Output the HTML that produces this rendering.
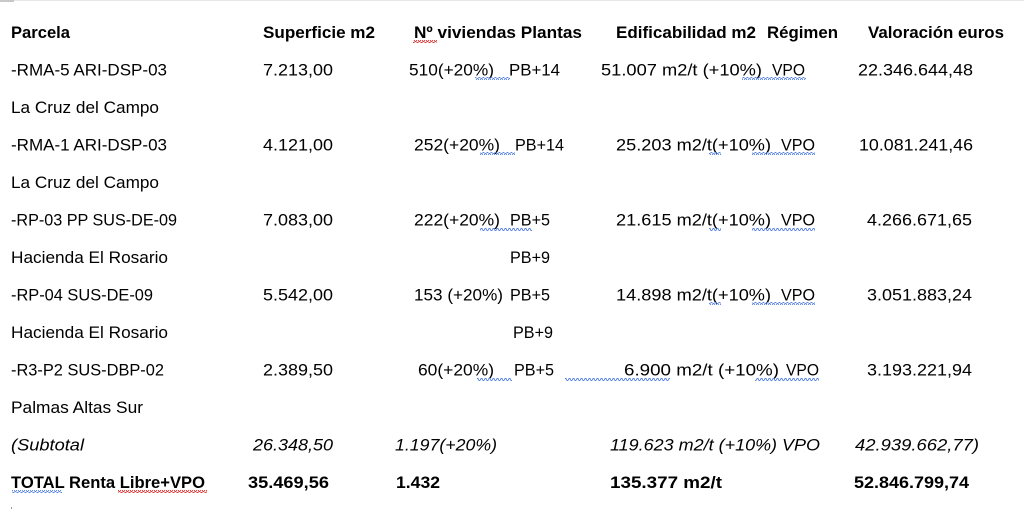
<!DOCTYPE html>
<html>
<head>
<meta charset="utf-8">
<style>
html,body{margin:0;padding:0;background:#fff;}
svg{display:block;}
text{font-family:"Liberation Sans",Arial,sans-serif;font-size:17px;fill:#000;}
.b{font-weight:bold;}
.i{font-style:italic;}
</style>
</head>
<body>
<svg width="1024" height="510" viewBox="0 0 1024 510" xmlns="http://www.w3.org/2000/svg">
<defs>
<pattern id="wb" x="0" y="0" width="4" height="3" patternUnits="userSpaceOnUse">
<path d="M0 2.5 L1 0.5 L2 0.5 L3 2.5 L4 2.5" fill="none" stroke="#5b86e0" stroke-width="0.9"/>
</pattern>
<pattern id="wr" x="0" y="0" width="4" height="3" patternUnits="userSpaceOnUse">
<path d="M0 2.5 L1 0.5 L2 0.5 L3 2.5 L4 2.5" fill="none" stroke="#e03030" stroke-width="0.9"/>
</pattern>
</defs>
<rect x="0" y="0" width="1024" height="510" fill="#fff"/>
<rect x="0" y="0" width="1024" height="1" fill="#e6e6e6"/>
<rect x="0" y="0" width="14" height="2" fill="#c8c8c8"/>
<rect x="11" y="507" width="1" height="2" fill="#999"/>

<!-- Header -->
<text class="b" x="11" y="38" textLength="59" lengthAdjust="spacingAndGlyphs">Parcela</text>
<text class="b" x="263" y="38" textLength="112" lengthAdjust="spacingAndGlyphs">Superficie m2</text>
<text class="b" x="414" y="38" textLength="168" lengthAdjust="spacingAndGlyphs">Nº viviendas Plantas</text>
<text class="b" x="616" y="38" textLength="140" lengthAdjust="spacingAndGlyphs">Edificabilidad m2</text>
<text class="b" x="767" y="38" textLength="71" lengthAdjust="spacingAndGlyphs">Régimen</text>
<text class="b" x="868" y="38" textLength="136" lengthAdjust="spacingAndGlyphs">Valoración euros</text>
<rect x="413" y="40" width="24" height="3" fill="url(#wr)"/>

<!-- Row 2 -->
<text x="11" y="75.5" textLength="156" lengthAdjust="spacingAndGlyphs">-RMA-5 ARI-DSP-03</text>
<text x="263" y="75.5" textLength="70" lengthAdjust="spacingAndGlyphs">7.213,00</text>
<text x="409" y="75.5" textLength="85" lengthAdjust="spacingAndGlyphs">510(+20%)</text>
<text x="509" y="75.5" textLength="51" lengthAdjust="spacingAndGlyphs">PB+14</text>
<text x="601" y="75.5" textLength="161" lengthAdjust="spacingAndGlyphs">51.007 m2/t (+10%)</text>
<text x="772" y="75.5" textLength="33" lengthAdjust="spacingAndGlyphs">VPO</text>
<text x="858" y="75.5" textLength="115" lengthAdjust="spacingAndGlyphs">22.346.644,48</text>
<rect x="475" y="77" width="35" height="3" fill="url(#wb)"/>
<rect x="742" y="77" width="64" height="3" fill="url(#wb)"/>

<!-- Row 3 -->
<text x="11" y="113" textLength="148" lengthAdjust="spacingAndGlyphs">La Cruz del Campo</text>

<!-- Row 4 -->
<text x="11" y="150.5" textLength="156" lengthAdjust="spacingAndGlyphs">-RMA-1 ARI-DSP-03</text>
<text x="263" y="150.5" textLength="70" lengthAdjust="spacingAndGlyphs">4.121,00</text>
<text x="414" y="150.5" textLength="86" lengthAdjust="spacingAndGlyphs">252(+20%)</text>
<text x="515" y="150.5" textLength="49" lengthAdjust="spacingAndGlyphs">PB+14</text>
<text x="616" y="150.5" textLength="155" lengthAdjust="spacingAndGlyphs">25.203 m2/t(+10%)</text>
<text x="781" y="150.5" textLength="34" lengthAdjust="spacingAndGlyphs">VPO</text>
<text x="859" y="150.5" textLength="114" lengthAdjust="spacingAndGlyphs">10.081.241,46</text>
<rect x="480" y="152" width="35" height="3" fill="url(#wb)"/>
<rect x="709" y="152" width="12" height="3" fill="url(#wb)"/>
<rect x="752" y="152" width="63" height="3" fill="url(#wb)"/>

<!-- Row 5 -->
<text x="11" y="188" textLength="148" lengthAdjust="spacingAndGlyphs">La Cruz del Campo</text>

<!-- Row 6 -->
<text x="11" y="225.5" textLength="166" lengthAdjust="spacingAndGlyphs">-RP-03 PP SUS-DE-09</text>
<text x="263" y="225.5" textLength="70" lengthAdjust="spacingAndGlyphs">7.083,00</text>
<text x="414" y="225.5" textLength="86" lengthAdjust="spacingAndGlyphs">222(+20%)</text>
<text x="510" y="225.5" textLength="40" lengthAdjust="spacingAndGlyphs">PB+5</text>
<text x="616" y="225.5" textLength="155" lengthAdjust="spacingAndGlyphs">21.615 m2/t(+10%)</text>
<text x="781" y="225.5" textLength="34" lengthAdjust="spacingAndGlyphs">VPO</text>
<text x="867" y="225.5" textLength="105" lengthAdjust="spacingAndGlyphs">4.266.671,65</text>
<rect x="480" y="228" width="52" height="3" fill="url(#wb)"/>
<rect x="709" y="228" width="12" height="3" fill="url(#wb)"/>
<rect x="752" y="228" width="63" height="3" fill="url(#wb)"/>

<!-- Row 7 -->
<text x="11" y="263" textLength="157" lengthAdjust="spacingAndGlyphs">Hacienda El Rosario</text>
<text x="510" y="263" textLength="40" lengthAdjust="spacingAndGlyphs">PB+9</text>

<!-- Row 8 -->
<text x="11" y="300.5" textLength="142" lengthAdjust="spacingAndGlyphs">-RP-04 SUS-DE-09</text>
<text x="263" y="300.5" textLength="70" lengthAdjust="spacingAndGlyphs">5.542,00</text>
<text x="414" y="300.5" textLength="89" lengthAdjust="spacingAndGlyphs">153 (+20%)</text>
<text x="510" y="300.5" textLength="40" lengthAdjust="spacingAndGlyphs">PB+5</text>
<text x="616" y="300.5" textLength="155" lengthAdjust="spacingAndGlyphs">14.898 m2/t(+10%)</text>
<text x="781" y="300.5" textLength="34" lengthAdjust="spacingAndGlyphs">VPO</text>
<text x="867" y="300.5" textLength="105" lengthAdjust="spacingAndGlyphs">3.051.883,24</text>
<rect x="709" y="302" width="12" height="3" fill="url(#wb)"/>
<rect x="752" y="302" width="63" height="3" fill="url(#wb)"/>

<!-- Row 9 -->
<text x="11" y="338" textLength="157" lengthAdjust="spacingAndGlyphs">Hacienda El Rosario</text>
<text x="513" y="338" textLength="40" lengthAdjust="spacingAndGlyphs">PB+9</text>

<!-- Row 10 -->
<text x="11" y="375.5" textLength="153" lengthAdjust="spacingAndGlyphs">-R3-P2 SUS-DBP-02</text>
<text x="263" y="375.5" textLength="70" lengthAdjust="spacingAndGlyphs">2.389,50</text>
<text x="418" y="375.5" textLength="76" lengthAdjust="spacingAndGlyphs">60(+20%)</text>
<text x="514" y="375.5" textLength="40" lengthAdjust="spacingAndGlyphs">PB+5</text>
<text x="624" y="375.5" textLength="155" lengthAdjust="spacingAndGlyphs">6.900 m2/t (+10%)</text>
<text x="786" y="375.5" textLength="33" lengthAdjust="spacingAndGlyphs">VPO</text>
<text x="867" y="375.5" textLength="105" lengthAdjust="spacingAndGlyphs">3.193.221,94</text>
<rect x="477" y="378" width="35" height="3" fill="url(#wb)"/>
<rect x="565" y="378" width="105" height="3" fill="url(#wb)"/>
<rect x="755" y="378" width="64" height="3" fill="url(#wb)"/>

<!-- Row 11 -->
<text x="11" y="413" textLength="132" lengthAdjust="spacingAndGlyphs">Palmas Altas Sur</text>

<!-- Row 12 italic -->
<text class="i" x="11" y="450.5" textLength="73" lengthAdjust="spacingAndGlyphs">(Subtotal</text>
<text class="i" x="253" y="450.5" textLength="80" lengthAdjust="spacingAndGlyphs">26.348,50</text>
<text class="i" x="395" y="450.5" textLength="102" lengthAdjust="spacingAndGlyphs">1.197(+20%)</text>
<text class="i" x="610" y="450.5" textLength="210" lengthAdjust="spacingAndGlyphs">119.623 m2/t (+10%) VPO</text>
<text class="i" x="855" y="450.5" textLength="124" lengthAdjust="spacingAndGlyphs">42.939.662,77)</text>

<!-- Row 13 bold -->
<text class="b" x="11" y="488" textLength="194" lengthAdjust="spacingAndGlyphs">TOTAL Renta Libre+VPO</text>
<text class="b" x="248" y="488" textLength="81" lengthAdjust="spacingAndGlyphs">35.469,56</text>
<text class="b" x="396" y="488" textLength="44" lengthAdjust="spacingAndGlyphs">1.432</text>
<text class="b" x="610" y="488" textLength="112" lengthAdjust="spacingAndGlyphs">135.377 m2/t</text>
<text class="b" x="854" y="488" textLength="115" lengthAdjust="spacingAndGlyphs">52.846.799,74</text>
<rect x="12" y="490" width="50" height="3" fill="url(#wb)"/>
<rect x="118" y="490" width="89" height="3" fill="url(#wr)"/>
</svg>
</body>
</html>
